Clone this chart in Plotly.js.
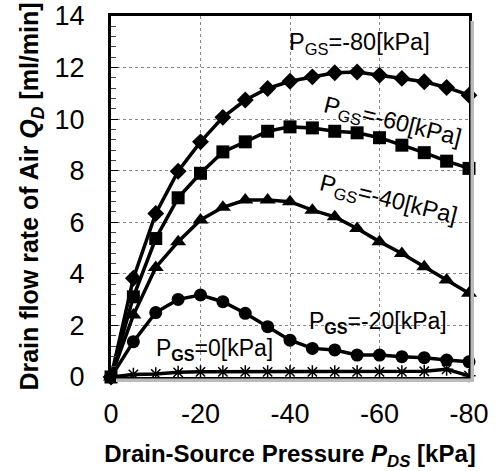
<!DOCTYPE html>
<html>
<head>
<meta charset="utf-8">
<script src="https://cdn.plot.ly/plotly-3.0.1.min.js"></script>
<style>html,body{margin:0;padding:0;background:#fff;}#chart{width:496px;height:471px;}</style>
</head>
<body>
<div id="chart"></div>
<script>
var pds = [0, -5, -10, -15, -20, -25, -30, -35, -40, -45, -50, -55, -60, -65, -70, -75, -80];
var qGS80 = [0, 3.83, 6.34, 7.98, 9.12, 10.07, 10.74, 11.19, 11.47, 11.64, 11.8, 11.83, 11.7, 11.58, 11.45, 11.23, 10.93];
var qGS60 = [0, 3.11, 5.37, 6.95, 7.9, 8.73, 9.12, 9.53, 9.7, 9.66, 9.53, 9.47, 9.28, 8.99, 8.7, 8.37, 8.09];
var qGS40 = [0, 2.4, 4.25, 5.25, 6.09, 6.58, 6.86, 6.86, 6.8, 6.47, 6.21, 5.76, 5.25, 4.79, 4.28, 3.76, 3.25];
var qGS20 = [0, 1.37, 2.5, 3.01, 3.18, 2.92, 2.47, 1.95, 1.43, 1.11, 1.05, 0.85, 0.85, 0.79, 0.75, 0.66, 0.59];
var qGS0  = [0, 0.1, 0.12, 0.18, 0.2, 0.2, 0.2, 0.2, 0.2, 0.2, 0.2, 0.2, 0.2, 0.2, 0.22, 0.3, 0.05];
var xTicks = [0, -20, -40, -60, -80];
var xTickText = ['0', '-20', '-40', '-60', '-80'];
var yTicks = [0, 2, 4, 6, 8, 10, 12, 14];

var FONT = 'Arial, "Liberation Sans", Helvetica, sans-serif';
function tr(y, sym, size, lw) {
  return {
    x: pds, y: y, type: 'scatter', mode: 'lines+markers', cliponaxis: false,
    line: {color: '#000', width: 3.5},
    marker: {symbol: sym, size: size, color: '#000', line: {color: '#000', width: lw || 0}}
  };
}
var data = [
  tr(qGS0, 'asterisk-open', 11, 1.5),
  tr(qGS20, 'circle', 13),
  tr(qGS40, 'triangle-up', 14),
  tr(qGS60, 'square', 13),
  tr(qGS80, 'diamond', 13)
];

var pw = 358, ph = 361, sh = 5;
var layout = {
  width: 496, height: 471,
  margin: {l: 111, r: 27, t: 16, b: 94},
  paper_bgcolor: '#fff', plot_bgcolor: '#fff',
  showlegend: false,
  font: {family: FONT, color: '#000'},
  xaxis: {
    range: [0, -80], tickvals: xTicks, ticktext: xTickText,
    tickfont: {size: 27, family: FONT}, ticks: '', ticklabelstandoff: 11,
    showgrid: true, gridcolor: '#888', gridwidth: 1, griddash: 'dot',
    showline: true, linecolor: '#000', linewidth: 3, mirror: true, zeroline: false,
    title: {text: 'Drain-Source Pressure <i>P<sub>DS</sub></i> [kPa]', font: {size: 24, family: FONT, weight: 'bold'}, standoff: 17}
  },
  yaxis: {
    range: [0, 14], tickvals: yTicks,
    tickfont: {size: 27, family: FONT}, ticks: 'inside', ticklen: 7, tickwidth: 1, tickcolor: '#000',
    ticklabelstandoff: 18,
    minor: {dtick: 0.4, ticks: 'inside', ticklen: 5, tickwidth: 1, tickcolor: '#444', showgrid: false},
    showgrid: true, gridcolor: '#888', gridwidth: 1, griddash: 'dot',
    showline: true, linecolor: '#000', linewidth: 3, mirror: true, zeroline: false,
    title: {text: 'Drain flow rate of Air <i>Q<sub>D</sub></i> [ml/min]', font: {size: 25, family: FONT, weight: 'bold'}, standoff: 9}
  },
  shapes: [
    {type: 'rect', xref: 'paper', yref: 'paper', x0: 1 + 1.5/pw, x1: 1 + sh/pw, y0: -sh/ph, y1: 1 - sh/ph, fillcolor: '#bbb', line: {width: 0}},
    {type: 'rect', xref: 'paper', yref: 'paper', x0: sh/pw, x1: 1 + sh/pw, y0: -sh/ph, y1: -1.5/ph, fillcolor: '#bbb', line: {width: 0}}
  ],
  annotations: [
    {x: -55.6, y: 12.95, text: 'P<sub>GS</sub>=-80[kPa]', showarrow: false, font: {size: 23.5, family: FONT}},
    {x: -63.0, y: 9.88, text: 'P<sub>GS</sub>=-60[kPa]', showarrow: false, textangle: 14, font: {size: 23.5, family: FONT}},
    {x: -62.1, y: 6.86, text: 'P<sub>GS</sub>=-40[kPa]', showarrow: false, textangle: 14, font: {size: 23.5, family: FONT}},
    {x: -59.7, y: 2.13, text: 'P<sub><b>GS</b></sub>=-20[kPa]', showarrow: false, font: {size: 23, family: FONT}},
    {x: -23.2, y: 1.05, text: 'P<sub><b>GS</b></sub>=0[kPa]', showarrow: false, font: {size: 23, family: FONT}}
  ]
};
Plotly.newPlot('chart', data, layout, {staticPlot: true, displayModeBar: false});
</script>
</body>
</html>
